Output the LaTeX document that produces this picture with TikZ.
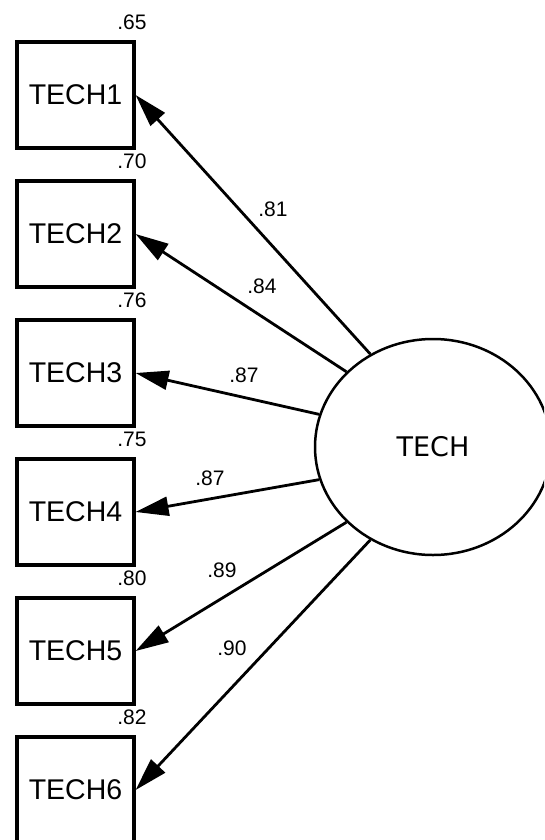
\documentclass[tikz,border=0pt]{standalone}
\usepackage{fontspec}
\setmainfont{Liberation Sans}
\newfontfamily\circfont{DejaVu Sans}
\usetikzlibrary{arrows.meta,shapes.geometric}
\begin{document}
\begin{tikzpicture}[x=1pt,y=-1pt,
  obs/.style={draw,line width=3.2pt,minimum width=117pt,minimum height=106pt,inner sep=0pt,font=\fontsize{28.5}{28.5}\selectfont},
  lat/.style={draw,ellipse,line width=2.5pt,minimum width=236pt,minimum height=216pt,inner sep=0pt,font=\circfont\fontsize{27}{27}\selectfont},
  arr/.style={line width=2.8pt,-{Triangle[length=33pt,width=19pt]}},
  coef/.style={inner sep=0pt,font=\fontsize{21}{21}\selectfont}
]
\useasboundingbox (0,0) rectangle (544,840);
\clip (0,0) rectangle (544,840);
\fill[white] (0,0) rectangle (544,840);
\node[obs] (t1) at (75.5,95) {TECH1};
\node[obs] (t2) at (75.5,234) {TECH2};
\node[obs] (t3) at (75.5,373) {TECH3};
\node[obs] (t4) at (75.5,512) {TECH4};
\node[obs] (t5) at (75.5,651) {TECH5};
\node[obs] (t6) at (75.5,790) {TECH6};
\node[lat] (tech) at (433,447) {TECH};
\draw[arr] (tech.124) -- (t1.east);
\draw[arr] (tech.139) -- (t2.east);
\draw[arr] (tech.164) -- (t3.east);
\draw[arr] (tech.196) -- (t4.east);
\draw[arr] (tech.221) -- (t5.east);
\draw[arr] (tech.236) -- (t6.east);
\node[coef] (v1) at (132,22) {.65};
\node[coef] (v2) at (132,161) {.70};
\node[coef] (v3) at (132,300) {.76};
\node[coef] (v4) at (132,439) {.75};
\node[coef] (v5) at (132,578) {.80};
\node[coef] (v6) at (132,717) {.82};
\node[coef] (l1) at (273,209) {.81};
\node[coef] (l2) at (262,286) {.84};
\node[coef] (l3) at (244,375) {.87};
\node[coef] (l4) at (210,478) {.87};
\node[coef] (l5) at (222,570) {.89};
\node[coef] (l6) at (232,648) {.90};
\end{tikzpicture}
\end{document}
